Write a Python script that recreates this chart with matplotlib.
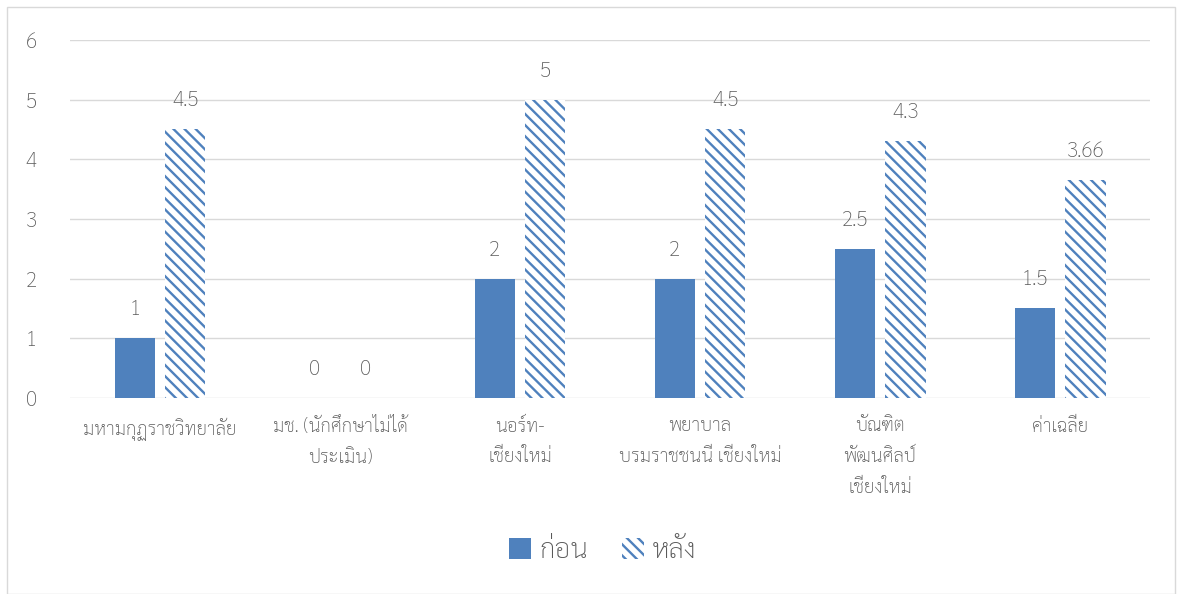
import matplotlib
matplotlib.use("Agg")
import matplotlib.pyplot as plt
from matplotlib import font_manager as fm
from matplotlib.patches import Rectangle
import numpy as np

categories = ["มหามกุฏราชวิทยาลัย", "มช. (นักศึกษาไม่ได้\nประเมิน)", "นอร์ท-\nเชียงใหม่",
              "พยาบาล\nบรมราชชนนี เชียงใหม่", "บัณฑิต\nพัฒนศิลป์\nเชียงใหม่", "ค่าเฉลี่ย"]
before = [1, 0, 2, 2, 2.5, 1.5]
after = [4.5, 0, 5, 4.5, 4.3, 3.66]
before_labels = ["1", "0", "2", "2", "2.5", "1.5"]
after_labels = ["4.5", "0", "5", "4.5", "4.3", "3.66"]
series_names = ["ก่อน", "หลัง"]

# pick a Thai-capable family that is actually installed
names = {f.name for f in fm.fontManager.ttflist}
thai_font = 'DejaVu Sans'
for cand in ['Sarabun', 'IBM Plex Sans Thai Looped', 'Thasadith']:
    if cand in names:
        thai_font = cand
        break
plt.rcParams['font.family'] = [thai_font, 'DejaVu Sans']
plt.rcParams['font.weight'] = 'light'
plt.rcParams['hatch.color'] = '#4F81BD'
plt.rcParams['hatch.linewidth'] = 1.7

blue = '#4F81BD'
text_col = '#595959'

fig = plt.figure(figsize=(11.82, 5.94), dpi=100)
fig.patches.append(Rectangle((0.006, 0.0), 0.988, 0.988, transform=fig.transFigure,
                             fill=False, edgecolor='#D9D9D9', linewidth=1))
ax = fig.add_axes([0.0592, 0.330, 0.9138, 0.6027])

x = np.arange(len(categories))
w = 0.225
gap = 0.055
b1 = ax.bar(x - (w + gap) / 2, before, w, color=blue, edgecolor='none')
b2 = ax.bar(x + (w + gap) / 2, after, w, color='white', edgecolor=blue,
            hatch='\\\\\\', linewidth=0)

for bars, labels in ((b1, before_labels), (b2, after_labels)):
    for rect, lab in zip(bars, labels):
        ax.annotate(lab, (rect.get_x() + rect.get_width() / 2, rect.get_height()),
                    xytext=(0, 13), textcoords='offset points', ha='center', va='bottom',
                    fontsize=15, color=text_col)

ax.set_xlim(-0.5, len(categories) - 0.5)
ax.set_ylim(0, 6)
ax.set_yticks(range(7))
ax.yaxis.grid(True, color='#D9D9D9', linewidth=1)
ax.set_axisbelow(True)
for s in ax.spines.values():
    s.set_visible(False)
ax.tick_params(axis='y', length=0, pad=24, labelsize=15, labelcolor=text_col)
ax.tick_params(axis='x', length=0, pad=14, labelsize=13.5, labelcolor=text_col)
ax.set_xticks(x)
ax.set_xticklabels(categories, va='top', linespacing=1.9)

fig.legend([b1, b2], series_names, loc='center', bbox_to_anchor=(0.51, 0.073), ncol=2,
           frameon=False, labelcolor=text_col, handlelength=0.8,
           handleheight=0.8, handletextpad=0.3, columnspacing=1.2, fontsize=20)

fig.savefig('out.png', dpi=100)
